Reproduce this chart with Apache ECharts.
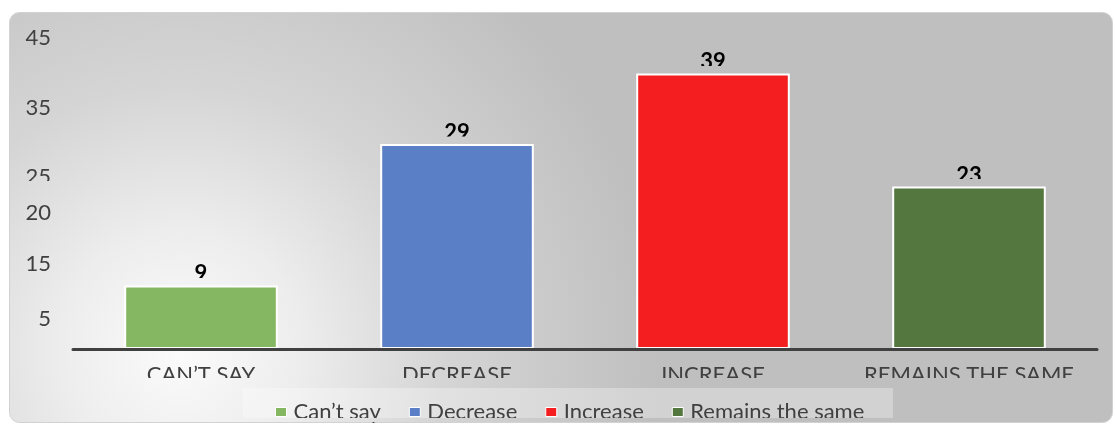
<!DOCTYPE html>
<html>
<head>
<meta charset="utf-8">
<script src="https://cdn.jsdelivr.net/npm/echarts@6/dist/echarts.min.js"></script>
<style>
  html, body { margin: 0; padding: 0; background: #fff; }
  #main { width: 1116px; height: 425px; }
</style>
</head>
<body>
<div id="main"></div>
<script>
var categories = ['CAN\u2019T SAY', 'DECREASE', 'INCREASE', 'REMAINS THE SAME'];
var legendNames = ['Can\u2019t say', 'Decrease', 'Increase', 'Remains the same'];
var values = [9, 29, 39, 23];
var barColors = ['#85b762', '#5a7fc6', '#f41e20', '#54763f'];
// the tick labels sit a bit off their values in the original
var yLabelPos = [4.25, 12.03, 19.24, 24.34, 34.1, 44.08];
var yLabelText = ['5', '15', '20', '25', '35', '45'];

var FONT = 'Lato';
var myChart = echarts.init(document.getElementById('main'));

var bgFill = {
    type: 'radial', x: 180, y: 350, r: 480, global: true,
    colorStops: [
        { offset: 0, color: '#fbfbfb' },
        { offset: 0.25, color: '#ededed' },
        { offset: 0.55, color: '#d5d5d5' },
        { offset: 1, color: '#bfbfbf' }
    ]
};

var seriesList = categories.map(function (c, i) {
    return {
        name: legendNames[i],
        type: 'bar',
        barGap: '-100%',
        barCategoryGap: '40%',
        data: values.map(function (v, j) { return j === i ? v : '-'; }),
        itemStyle: { color: barColors[i], borderColor: '#fff', borderWidth: 2 },
        label: {
            show: true, position: 'top', distance: 0,
            color: '#000', fontWeight: 'bold', fontSize: 22, fontFamily: FONT
        }
    };
});

option = {
    animation: false,
    textStyle: { fontFamily: FONT },
    grid: { left: 73, right: 19, top: 31, bottom: 76 },
    legend: {
        data: legendNames,
        left: 270, top: 396,
        itemWidth: 11, itemHeight: 9, itemGap: 28,
        icon: 'rect',
        itemStyle: { borderColor: '#fff', borderWidth: 1 },
        textStyle: { fontSize: 22, color: '#404040', fontFamily: FONT, padding: [0, 0, 0, 2] }
    },
    xAxis: {
        type: 'category',
        data: categories,
        z: 5,
        axisLine: { lineStyle: { color: '#404040', width: 3 } },
        axisTick: { show: false },
        axisLabel: { interval: 0, fontSize: 22, color: '#404040', margin: 15, fontFamily: FONT }
    },
    yAxis: {
        type: 'value',
        min: 0, max: 45,
        splitLine: { show: false },
        axisLine: { show: false },
        axisTick: { show: false },
        axisLabel: {
            customValues: yLabelPos,
            margin: 22,
            fontSize: 22, color: '#404040', fontFamily: FONT,
            formatter: function (v) {
                var best = 0;
                for (var k = 0; k < yLabelPos.length; k++) {
                    if (Math.abs(yLabelPos[k] - v) < Math.abs(yLabelPos[best] - v)) best = k;
                }
                return yLabelText[best];
            }
        }
    },
    graphic: {
        elements: [
            {
                id: 'bg', type: 'rect', z: -10, silent: true,
                shape: { x: 9.5, y: 12.5, width: 1103, height: 410, r: 10 },
                style: { fill: bgFill, stroke: '#d2d2d2', lineWidth: 1 }
            },
            {
                id: 'legendBox', type: 'rect', z: 1, silent: true,
                shape: { x: 243, y: 388, width: 650, height: 30 },
                style: { fill: 'rgba(255,255,255,0.3)' }
            }
        ]
    },
    series: seriesList
};

myChart.setOption(option);

// the original clips the bottom of its texts; hide those parts with bits of background
var covers = [];
values.forEach(function (v, i) {
    var p = myChart.convertToPixel({ xAxisIndex: 0, yAxisIndex: 0 }, [i, v]);
    covers.push({
        id: 'coverBar' + i, type: 'rect', z: 100, silent: true,
        shape: { x: p[0] - 40, y: p[1] - 7.5, width: 80, height: 6.5 },
        style: { fill: bgFill }
    });
});
covers.push({ id: 'coverX', type: 'rect', z: 100, silent: true, shape: { x: 60, y: 378, width: 1052, height: 10 }, style: { fill: bgFill } });
covers.push({ id: 'coverLegend', type: 'rect', z: 100, silent: true, shape: { x: 243, y: 418, width: 650, height: 4 }, style: { fill: bgFill } });
covers.push({ id: 'cover25', type: 'rect', z: 100, silent: true, shape: { x: 15, y: 181, width: 50, height: 6 }, style: { fill: bgFill } });

myChart.setOption({ graphic: { elements: covers } });
</script>
</body>
</html>
